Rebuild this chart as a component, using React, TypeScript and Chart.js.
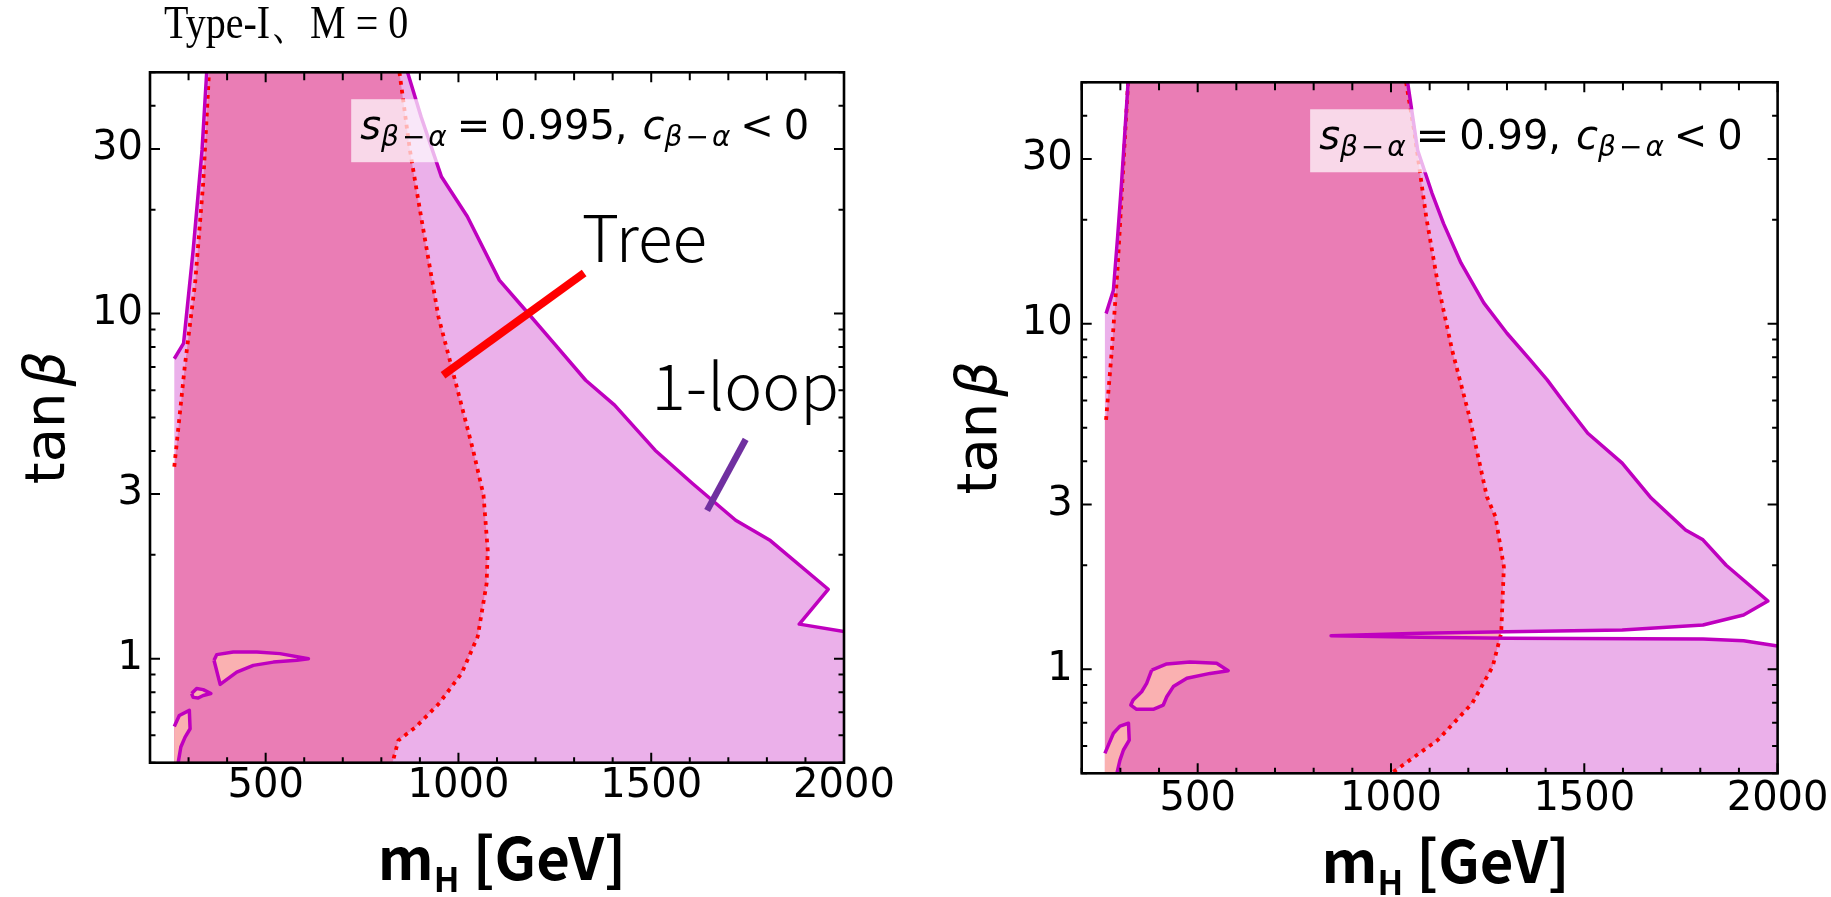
import React, { useEffect, useRef } from "react";
import { Chart, registerables } from "chart.js";

Chart.register(...registerables);

// ================= Axes =================
const X_MIN = 200;
const X_MAX = 2000;
const Y_MIN = 0.5;
const Y_MAX = 50;
const xTicks = [200, 300, 400, 500, 600, 700, 800, 900, 1000, 1100, 1200, 1300, 1400, 1500, 1600, 1700, 1800, 1900, 2000];
const xLabelTicks = [500, 1000, 1500, 2000];
const yTicks = [0.5, 0.6, 0.7, 0.8, 0.9, 1, 2, 3, 4, 5, 6, 7, 8, 9, 10, 20, 30, 40, 50];
const yLabelTicks = [1, 3, 10, 30];

// ================= Left panel: s(β-α) = 0.995 =================
const edgeX995 = 263;
const loopLeftX995 = [263, 287, 312, 335, 347];
const loopLeftY995 = [7.4, 8.2, 15.3, 29.8, 50];
const loopRightX995 = [868, 903, 956, 1023, 1106, 1165, 1248, 1330, 1405, 1510, 1607, 1719, 1809, 1959, 1884, 2000];
const loopRightY995 = [50, 37.2, 24.9, 19.1, 12.5, 10.5, 8.2, 6.41, 5.43, 4.02, 3.22, 2.52, 2.2, 1.59, 1.26, 1.2];
const treeLeftX995 = [263, 290, 317, 338, 353];
const treeLeftY995 = [3.6, 7.0, 12.25, 23.9, 50];
const treeRightX995 = [847, 874, 903, 948, 993, 1038, 1065, 1076, 1073, 1050, 1008, 949, 889, 844, 829];
const treeRightY995 = [50, 29.8, 19.1, 9.8, 6.3, 4.02, 2.98, 2.06, 1.65, 1.16, 0.906, 0.741, 0.634, 0.58, 0.5];
const islandAX995 = [366, 373, 416, 477, 537, 611, 581, 520, 468, 425, 382, 366];
const islandAY995 = [0.99, 1.028, 1.046, 1.046, 1.035, 1.0, 0.99, 0.978, 0.957, 0.915, 0.843, 0.99];
const islandBX995 = [308, 321, 338, 358, 338, 325, 312, 308];
const islandBY995 = [0.793, 0.82, 0.814, 0.793, 0.783, 0.77, 0.773, 0.793];
const stripX995 = [263, 276, 302, 304, 291, 280, 273];
const stripY995 = [0.637, 0.685, 0.709, 0.627, 0.593, 0.555, 0.5];
const treePointerX = [1326, 960];
const treePointerY = [13.1, 6.63];
const loopPointerX = [1745, 1645];
const loopPointerY = [4.32, 2.69];
const sbaValue995 = "0.995";

// ================= Right panel: s(β-α) = 0.99 =================
const edgeX99 = 260;
const loopLeftX99 = [263, 282, 293, 303, 320];
const loopLeftY99 = [10.7, 12.5, 17.9, 25.5, 50];
const loopRightX99 = [1043, 1069, 1106, 1136, 1181, 1240, 1300, 1360, 1404, 1449, 1509, 1598, 1673, 1762, 1807, 1867, 1975, 1912, 1807, 1598, 1300, 1076, 845, 1076, 1300, 1807, 1912, 2000];
const loopRightY99 = [50, 31.8, 23.9, 19.5, 15.0, 11.5, 9.39, 7.86, 6.88, 5.89, 4.82, 3.95, 3.13, 2.53, 2.37, 2.0, 1.576, 1.436, 1.343, 1.3, 1.285, 1.271, 1.251, 1.238, 1.229, 1.224, 1.21, 1.168];
const treeLeftX99 = [263, 278, 293, 305, 320];
const treeLeftY99 = [5.27, 8.4, 14.6, 25.5, 50];
const treeRightX99 = [1039, 1061, 1091, 1121, 1158, 1203, 1248, 1270, 1292, 1285, 1263, 1210, 1121, 1001];
const treeRightY99 = [50, 35.6, 20.4, 13.1, 8.4, 5.38, 3.16, 2.77, 1.98, 1.271, 1.018, 0.797, 0.624, 0.5];
const islandAX99 = [381, 420, 480, 549, 579, 532, 472, 437, 420, 411, 385, 342, 327, 333, 355, 368, 381];
const islandAY99 = [0.995, 1.036, 1.05, 1.041, 0.991, 0.973, 0.942, 0.891, 0.833, 0.788, 0.766, 0.766, 0.788, 0.815, 0.861, 0.911, 0.995];
const stripX99 = [260, 282, 299, 321, 323, 308, 299, 291];
const stripY99 = [0.571, 0.653, 0.685, 0.698, 0.624, 0.584, 0.546, 0.5];
const spikeTreeX99 = [845, 1076, 1284, 1284, 1076];
const spikeTreeY99 = [1.251, 1.271, 1.283, 1.229, 1.238];
const sbaValue99 = "0.99";

// ================= Styling =================
const VIOLET = "rgb(235,176,234)";
const PINK = "rgb(234,125,181)";
const SALMON = "rgb(250,177,177)";
const MAGENTA = "rgb(191,0,191)";
const RED = "rgb(255,0,0)";
const PURPLE = "rgb(112,48,160)";
const NONE = "rgba(0,0,0,0)";
const DOT = [3.8, 5];

const pts = (xs: number[], ys: number[]) => xs.map((x, i) => ({ x, y: ys[i] }));

function fillDs(data: any[], color: string) {
  return { data, fill: "shape", backgroundColor: color, borderColor: NONE, borderWidth: 0, pointRadius: 0, tension: 0 };
}
function lineDs(data: any[], color: string, width: number, dash: number[] = []) {
  return {
    data, fill: false, backgroundColor: NONE, borderColor: color, borderWidth: width, borderDash: dash,
    pointRadius: 0, tension: 0, borderCapStyle: "butt", borderJoinStyle: "round",
  };
}
function islandDs(data: any[]) {
  return {
    data, fill: "shape", backgroundColor: SALMON, borderColor: MAGENTA, borderWidth: 3.5,
    pointRadius: 0, tension: 0, borderJoinStyle: "round",
  };
}

type Run = { t?: string; f?: string; dy?: number; gap?: number };

function runsWidth(ctx: CanvasRenderingContext2D, runs: Run[]) {
  let w = 0;
  for (const r of runs) {
    if (r.gap) w += r.gap;
    if (r.t) { ctx.font = r.f as string; w += ctx.measureText(r.t).width; }
  }
  return w;
}
function drawRuns(ctx: CanvasRenderingContext2D, runs: Run[], x: number, y: number) {
  let cx = x;
  for (const r of runs) {
    if (r.gap) cx += r.gap;
    if (r.t) {
      ctx.font = r.f as string;
      ctx.fillText(r.t, cx, y + (r.dy || 0));
      cx += ctx.measureText(r.t).width;
    }
  }
}

function sbaRuns(value: string): Run[] {
  const big = 40, small = 28, dy = 7;
  const it = (s: number) => `italic ${s}px "DejaVu Sans"`;
  const up = (s: number) => `${s}px "DejaVu Sans"`;
  return [
    { t: "s", f: it(big) },
    { t: "β", f: it(small), dy }, { gap: 3 }, { t: "−", f: up(small), dy }, { gap: 3 }, { t: "α", f: it(small), dy },
    { gap: 10 }, { t: "=", f: up(big) }, { gap: 10 },
    { t: value + ",", f: up(big) },
    { gap: 15 },
    { t: "c", f: it(big) },
    { t: "β", f: it(small), dy }, { gap: 3 }, { t: "−", f: up(small), dy }, { gap: 3 }, { t: "α", f: it(small), dy },
    { gap: 10 }, { t: "<", f: up(big) }, { gap: 10 },
    { t: "0", f: up(big) },
  ];
}

function decorPlugin(p: any) {
  return {
    id: "decor_" + p.key,
    afterDatasetsDraw(chart: any) {
      const ctx: CanvasRenderingContext2D = chart.ctx;
      const xs = chart.scales.x, ys = chart.scales.y;
      ctx.save();
      ctx.textAlign = "left";
      ctx.textBaseline = "alphabetic";
      ctx.fillStyle = "#000";
      for (const lab of p.labels) {
        ctx.font = lab.font;
        ctx.fillText(lab.text, xs.getPixelForValue(lab.x), ys.getPixelForValue(lab.y));
      }
      const runs = sbaRuns(p.sba);
      const w = runsWidth(ctx, runs);
      const xr = xs.getPixelForValue(p.annotX);
      const yb = ys.getPixelForValue(p.annotY);
      const x0 = xr - w;
      ctx.fillStyle = "rgba(255,255,255,0.7)";
      ctx.fillRect(x0 - 9, yb - 40, w + 18, 63);
      ctx.fillStyle = "#000";
      drawRuns(ctx, runs, x0, yb);
      ctx.restore();
    },
    afterDraw(chart: any) {
      const ctx: CanvasRenderingContext2D = chart.ctx;
      const xs = chart.scales.x, ys = chart.scales.y;
      const a = chart.chartArea;
      ctx.save();
      ctx.strokeStyle = "#000";
      ctx.lineWidth = 2;
      ctx.beginPath();
      for (const v of xTicks) {
        const px = xs.getPixelForValue(v);
        const major = xLabelTicks.includes(v);
        const L = major ? 10 : 5.5;
        const Lt = major ? 10 : 8;
        ctx.moveTo(px, a.bottom); ctx.lineTo(px, a.bottom - L);
        ctx.moveTo(px, a.top); ctx.lineTo(px, a.top + Lt);
      }
      for (const v of yTicks) {
        const py = ys.getPixelForValue(v);
        const major = yLabelTicks.includes(v);
        const L = major ? 10 : 5.5;
        ctx.moveTo(a.left, py); ctx.lineTo(a.left + L, py);
        ctx.moveTo(a.right, py); ctx.lineTo(a.right - L, py);
      }
      ctx.stroke();
      ctx.lineWidth = 2.6;
      ctx.strokeRect(a.left, a.top, a.right - a.left, a.bottom - a.top);

      ctx.fillStyle = "#000";
      ctx.textAlign = "left";
      ctx.textBaseline = "alphabetic";
      // figure title (tall, narrow serif)
      if (p.title) {
        ctx.save();
        ctx.translate(a.left + 14, a.top - 34);
        ctx.scale(0.87, 1);
        ctx.font = '46px "Liberation Serif"';
        ctx.fillText(p.title, 0, 0);
        ctx.restore();
      }
      // y title (rotated)
      const yRuns: Run[] = [
        { t: "tan", f: '56px "DejaVu Sans"' },
        { gap: 6 },
        { t: "β", f: 'italic 56px "DejaVu Sans"' },
      ];
      const yw = runsWidth(ctx, yRuns);
      ctx.save();
      ctx.translate(a.left - 86, (a.top + a.bottom) / 2);
      ctx.rotate(-Math.PI / 2);
      drawRuns(ctx, yRuns, -yw / 2, 0);
      ctx.restore();
      // x title
      const xRuns: Run[] = [
        { t: "m", f: 'bold 58px "Noto Sans CJK JP"' },
        { t: "H", f: 'bold 34px "Noto Sans CJK JP"', dy: 12 },
        { t: " [GeV]", f: 'bold 58px "Noto Sans CJK JP"' },
      ];
      const xw = runsWidth(ctx, xRuns);
      drawRuns(ctx, xRuns, (a.left + a.right) / 2 + p.xTitleShift - xw / 2, a.bottom + p.xTitleDrop);
      ctx.restore();
    },
  };
}

function buildChart(canvas: HTMLCanvasElement, p: any) {
  const n = p.datasets.length;
  return new Chart(canvas, {
    type: "line",
    data: { datasets: p.datasets.map((d: any, i: number) => ({ ...d, order: n - i })) },
    options: {
      animation: false,
      responsive: false,
      devicePixelRatio: 1,
      events: [],
      layout: { padding: p.padding },
      plugins: { legend: { display: false }, tooltip: { enabled: false }, title: { display: false } },
      elements: { point: { radius: 0 }, line: { tension: 0 } },
      scales: {
        x: {
          type: "linear", min: X_MIN, max: X_MAX,
          grid: { display: false, drawTicks: false }, border: { display: false },
          afterBuildTicks: (s: any) => { s.ticks = xTicks.map((v) => ({ value: v })); },
          afterFit: (s: any) => { s.height = p.xAxisHeight; },
          ticks: {
            autoSkip: false, maxRotation: 0, minRotation: 0, padding: p.xTickPad, color: "#000",
            font: { family: "DejaVu Sans", size: 40 },
            callback: (v: any) => (xLabelTicks.includes(Number(v)) ? String(v) : ""),
          },
        },
        y: {
          type: "logarithmic", min: Y_MIN, max: Y_MAX,
          grid: { display: false, drawTicks: false }, border: { display: false },
          afterBuildTicks: (s: any) => { s.ticks = yTicks.map((v) => ({ value: v })); },
          afterFit: (s: any) => { s.width = 150; },
          ticks: {
            autoSkip: false, padding: p.yTickPad, color: "#000",
            font: { family: "DejaVu Sans", size: 40 },
            callback: (v: any) => (yLabelTicks.includes(Number(v)) ? String(v) : ""),
          },
        },
      },
    } as any,
    plugins: [decorPlugin(p)],
  } as any);
}

const leftPanel = {
  key: "left",
  padding: { left: 0, top: 72.3, right: 1831 - 844, bottom: 0 },
  xAxisHeight: 897 - 762.7,
  xTickPad: 0,
  yTickPad: 7,
  title: "Type-I、M = 0",
  sba: sbaValue995,
  annotX: 1910,
  annotY: 32,
  xTitleShift: 5,
  xTitleDrop: 117,
  labels: [
    { text: "Tree", x: 1320, y: 14.1, font: '300 64px "Noto Sans CJK JP"' },
    { text: "1-loop", x: 1501, y: 5.27, font: '300 64px "Noto Sans CJK JP"' },
  ],
  datasets: [
    fillDs([{ x: edgeX995, y: Y_MIN }, { x: edgeX995, y: loopLeftY995[0] }, ...pts(loopLeftX995, loopLeftY995), ...pts(loopRightX995, loopRightY995), { x: X_MAX, y: Y_MIN }], VIOLET),
    fillDs([{ x: edgeX995, y: Y_MIN }, { x: edgeX995, y: treeLeftY995[0] }, ...pts(treeLeftX995, treeLeftY995), ...pts(treeRightX995, treeRightY995)], PINK),
    fillDs([{ x: edgeX995, y: Y_MIN }, ...pts(stripX995, stripY995)], SALMON),
    islandDs(pts(islandAX995, islandAY995)),
    islandDs(pts(islandBX995, islandBY995)),
    lineDs(pts(treeLeftX995, treeLeftY995), RED, 3.8, DOT),
    lineDs(pts(treeRightX995, treeRightY995), RED, 3.8, DOT),
    lineDs(pts(loopLeftX995, loopLeftY995), MAGENTA, 3.5),
    lineDs(pts(loopRightX995, loopRightY995), MAGENTA, 3.5),
    lineDs(pts(stripX995, stripY995), MAGENTA, 3.5),
    lineDs(pts(treePointerX, treePointerY), RED, 8),
    lineDs(pts(loopPointerX, loopPointerY), PURPLE, 6.5),
  ],
};

const rightPanel = {
  key: "right",
  padding: { left: 1081.7 - 150, top: 82.3, right: 1831 - 1777.7, bottom: 0 },
  xAxisHeight: 897 - 773.3,
  xTickPad: 2.5,
  yTickPad: 9,
  title: "",
  sba: sbaValue99,
  annotX: 1910,
  annotY: 32,
  xTitleShift: 16,
  xTitleDrop: 110,
  labels: [],
  datasets: [
    fillDs([{ x: edgeX99, y: Y_MIN }, { x: edgeX99, y: loopLeftY99[0] }, ...pts(loopLeftX99, loopLeftY99), ...pts(loopRightX99, loopRightY99), { x: X_MAX, y: Y_MIN }], VIOLET),
    fillDs([{ x: edgeX99, y: Y_MIN }, { x: edgeX99, y: treeLeftY99[0] }, ...pts(treeLeftX99, treeLeftY99), ...pts(treeRightX99, treeRightY99)], PINK),
    fillDs([{ x: edgeX99, y: Y_MIN }, ...pts(stripX99, stripY99)], SALMON),
    fillDs(pts(spikeTreeX99, spikeTreeY99), SALMON),
    islandDs(pts(islandAX99, islandAY99)),
    lineDs(pts(treeLeftX99, treeLeftY99), RED, 3.8, DOT),
    lineDs(pts(treeRightX99, treeRightY99), RED, 3.8, DOT),
    lineDs(pts(loopLeftX99, loopLeftY99), MAGENTA, 3.5),
    lineDs(pts(loopRightX99, loopRightY99), MAGENTA, 3.5),
    lineDs(pts(stripX99, stripY99), MAGENTA, 3.5),
  ],
};

export default function App() {
  const leftRef = useRef<HTMLCanvasElement>(null);
  const rightRef = useRef<HTMLCanvasElement>(null);
  useEffect(() => {
    const c1 = buildChart(leftRef.current as HTMLCanvasElement, leftPanel);
    const c2 = buildChart(rightRef.current as HTMLCanvasElement, rightPanel);
    return () => { c1.destroy(); c2.destroy(); };
  }, []);
  return (
    <div style={{ position: "fixed", left: 0, top: 0, width: 1831, height: 897, background: "#fff", overflow: "hidden" }}>
      <canvas ref={leftRef} width={1831} height={897} style={{ position: "absolute", left: 0, top: 0 }} />
      <canvas ref={rightRef} width={1831} height={897} style={{ position: "absolute", left: 0, top: 0 }} />
    </div>
  );
}
